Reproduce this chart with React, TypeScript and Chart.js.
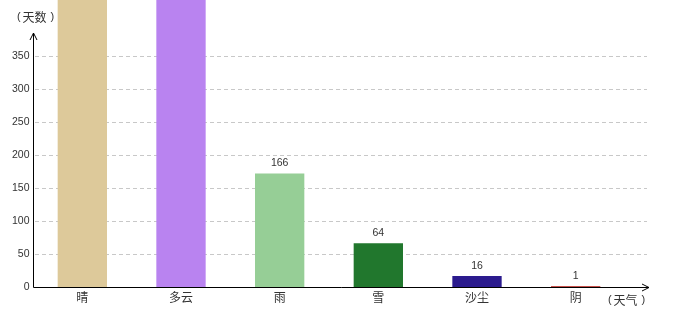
import React, { useEffect, useRef } from "react";
import { Chart, registerables } from "chart.js";

Chart.register(...registerables);

const categories = ["晴", "多云", "雨", "雪", "沙尘", "阴"];
const days = [480, 460, 166, 64, 16, 1];
const barColors = ["#DDC99A", "#B983F0", "#96CE96", "#21772D", "#2B1B8E", "#C8504A"];
const yTicks = [0, 50, 100, 150, 200, 250, 300, 350];
const yTitle = ["(", "天数", ")"];
const xTitle = ["(", "天气", ")"];

const NUM_FONT = "10.5px 'Liberation Sans', Arial, sans-serif";
const CJK_FONT = "12px 'Noto Sans CJK SC', sans-serif";

const drawPlugin = {
  id: "customAxes",
  beforeDatasetsDraw(chart: any) {
    const ctx = chart.ctx;
    const y = chart.scales.y;
    const area = chart.chartArea;
    ctx.save();
    ctx.strokeStyle = "#c8c8c8";
    ctx.lineWidth = 1;
    ctx.setLineDash([4, 3]);
    for (const t of yTicks) {
      if (t === 0) continue;
      const py = Math.round(y.getPixelForValue(t)) + 0.5;
      ctx.beginPath();
      ctx.moveTo(area.left + 2, py);
      ctx.lineTo(647, py);
      ctx.stroke();
    }
    ctx.restore();
  },
  afterDatasetsDraw(chart: any) {
    const ctx = chart.ctx;
    const x = chart.scales.x;
    const y = chart.scales.y;
    const area = chart.chartArea;
    const ax = 33.5;
    const ay = Math.round(y.getPixelForValue(0)) + 0.5;
    ctx.save();
    ctx.strokeStyle = "#000";
    ctx.lineWidth = 1;
    ctx.setLineDash([]);
    // y axis
    ctx.beginPath();
    ctx.moveTo(ax, ay);
    ctx.lineTo(ax, 33);
    ctx.moveTo(ax - 3.5, 40);
    ctx.lineTo(ax, 33);
    ctx.lineTo(ax + 3.5, 40);
    ctx.stroke();
    // x axis
    ctx.beginPath();
    ctx.moveTo(ax, ay);
    ctx.lineTo(649, ay);
    ctx.moveTo(642, ay - 3.5);
    ctx.lineTo(649, ay);
    ctx.lineTo(642, ay + 3.5);
    ctx.stroke();

    // y tick labels
    ctx.fillStyle = "#333";
    ctx.font = NUM_FONT;
    ctx.textAlign = "right";
    ctx.textBaseline = "middle";
    for (const t of yTicks) {
      ctx.fillText(String(t), 29.5, y.getPixelForValue(t));
    }
    // category labels
    ctx.font = CJK_FONT;
    ctx.textAlign = "center";
    ctx.textBaseline = "middle";
    categories.forEach((c, i) => {
      ctx.fillText(c, x.getPixelForValue(i), 297);
    });
    // data labels
    ctx.font = NUM_FONT;
    ctx.textBaseline = "bottom";
    const meta = chart.getDatasetMeta(0);
    meta.data.forEach((bar: any, i: number) => {
      const py = bar.y - 5;
      if (py > area.top + 10) ctx.fillText(String(days[i]), bar.x, py);
    });
    // titles
    ctx.textAlign = "left";
    ctx.textBaseline = "middle";
    const drawTitle = (parts: string[], x0: number, cy: number) => {
      ctx.font = "11px 'Liberation Sans', sans-serif";
      ctx.fillText(parts[0], x0, cy);
      ctx.font = CJK_FONT;
      ctx.fillText(parts[1], x0 + 5.5, cy);
      const w = ctx.measureText(parts[1]).width;
      ctx.font = "11px 'Liberation Sans', sans-serif";
      ctx.fillText(parts[2], x0 + 5.5 + w + 4, cy);
    };
    drawTitle(yTitle, 17, 17);
    drawTitle(xTitle, 608, 300);
    ctx.restore();
  },
};

export default function App() {
  const ref = useRef<HTMLCanvasElement>(null);
  useEffect(() => {
    if (!ref.current) return;
    const chart = new Chart(ref.current, {
      type: "bar",
      data: {
        labels: categories,
        datasets: [
          {
            data: days,
            yAxisID: "yBars",
            backgroundColor: barColors,
            borderWidth: 0,
            categoryPercentage: 0.5,
            barPercentage: 1,
            minBarLength: 1,
          },
        ],
      },
      options: {
        responsive: false,
        animation: false,
        layout: { padding: { left: 33, right: 55, top: 0, bottom: 33 } },
        plugins: { legend: { display: false }, tooltip: { enabled: false } },
        scales: {
          x: { display: false },
          y: { display: false, min: 0, max: 434.8 },
          yBars: { display: false, min: 0, max: 420 },
        },
      },
      plugins: [drawPlugin],
    });
    return () => chart.destroy();
  }, []);
  return (
    <div style={{ position: "fixed", left: 0, top: 0, width: 680, height: 320, background: "#fff" }}>
      <canvas ref={ref} width={680} height={320} style={{ display: "block" }} />
    </div>
  );
}
